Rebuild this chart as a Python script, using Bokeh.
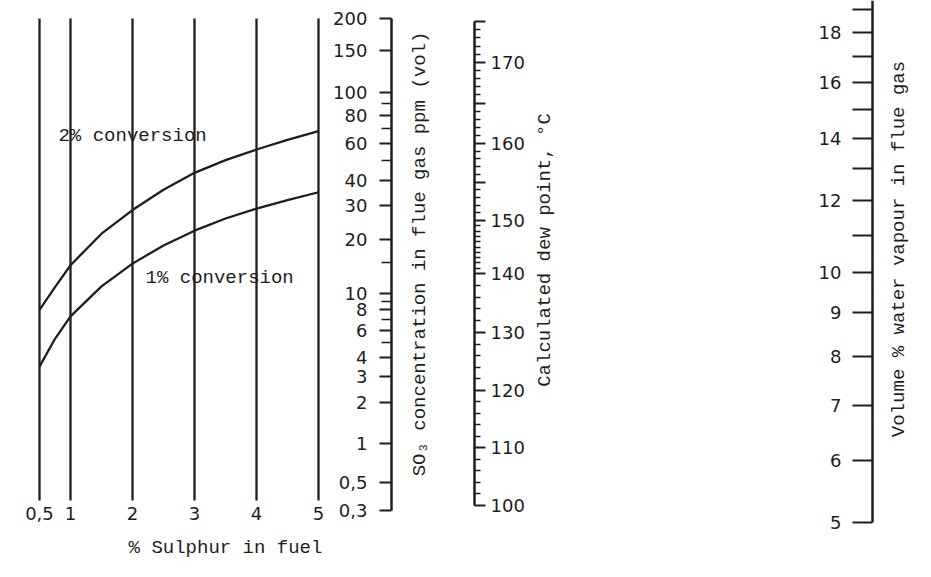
import numpy as np
from bokeh.plotting import figure
from bokeh.models import LinearAxis, FixedTicker, Range1d, Label, ColumnDataSource
from bokeh.embed import file_html
from bokeh.resources import INLINE

# ---------------- data ----------------
sulphur = [0.5, 1, 2, 3, 4, 5]
sulphur_labels = ["0,5", "1", "2", "3", "4", "5"]

curve_sulphur = [0.5, 0.75, 1, 1.5, 2, 2.5, 3, 3.5, 4, 4.5, 5]
so3_conv2 = [8.0, 10.9, 14.5, 21.5, 28.5, 36.0, 43.5, 50.0, 56.0, 62.0, 68.0]
so3_conv1 = [3.5, 5.3, 7.3, 11.0, 14.8, 18.6, 22.3, 25.8, 29.0, 32.0, 35.0]

so3_ticks = [0.3, 0.5, 1, 2, 3, 4, 6, 8, 10, 20, 30, 40, 60, 80, 100, 150, 200]
so3_tick_labels = ["0,3", "0,5", "1", "2", "3", "4", "6", "8", "10", "20", "30",
                   "40", "60", "80", "100", "150", "200"]
so3_minor = [5, 7, 9, 15, 50, 70, 90]

dew_ticks = [100, 110, 120, 130, 140, 150, 160, 170]
dew_tick_labels = ["100", "110", "120", "130", "140", "150", "160", "170"]
dew_mid = [155, 165, 175]
dew_minor = ([t for t in range(102, 150, 2) if t % 10 != 0]
             + [t for t in range(141, 175) if t % 5 != 0] + [145])

water_ticks = [5, 6, 7, 8, 9, 10, 12, 14, 16, 18]
water_tick_labels = ["5", "6", "7", "8", "9", "10", "12", "14", "16", "18"]
water_minor = [11, 13, 15, 17, 19]

# ---------------- scale definitions of the nomogram ----------------
def so3_pos(ppm):
    L = np.log10(np.asarray(ppm, dtype=float))
    return 126.0 + 133.35 * L + 12.30 * L ** 2 + 4.354 * L ** 3

def water_pos(w):
    x = np.log10(np.asarray(w, dtype=float)) - 1.0
    return 297.0 + 889.8 * x + 196.8 * x ** 2

DEW_CAL_T = [100, 110, 120, 130, 140, 150, 160, 170, 175]
DEW_CAL_H = [64, 122, 179, 237, 296, 349, 426, 507, 548]

def dew_pos(t):
    return np.interp(np.asarray(t, dtype=float), DEW_CAL_T, DEW_CAL_H)

def rnd(a):
    return [round(float(v), 3) for v in np.atleast_1d(a)]

# ---------------- layout ----------------
W, H = 915, 561
PX = 62.0
X_SO3, X_DEW, X_WATER = 6.177, 7.516, 13.935
BASE_H = 69.0
INK = "#1e1e1e"
MONO = "Liberation Mono"
SANS = "DejaVu Sans"

p = figure(width=W, height=H,
           x_range=Range1d(-8 / PX, (W - 8) / PX), y_range=Range1d(8, 8 + H),
           x_axis_type=None, y_axis_type=None, output_backend="svg",
           toolbar_location=None, min_border=0, outline_line_color=None,
           background_fill_color="white", border_fill_color="white")

# sulphur lines
src_s = ColumnDataSource(dict(x=sulphur))
p.segment(x0="x", x1="x", y0=BASE_H, y1=float(so3_pos(200)), source=src_s,
          line_color=INK, line_width=2.3)

# conversion curves
p.line(curve_sulphur, so3_pos(so3_conv2), line_color=INK, line_width=2.3, line_join="round")
p.line(curve_sulphur, so3_pos(so3_conv1), line_color=INK, line_width=2.3, line_join="round")

def style_axis(ax, tick_out, minor_out, standoff):
    ax.axis_line_color = INK
    ax.axis_line_width = 2.5
    ax.major_tick_line_color = INK
    ax.major_tick_line_width = 2
    ax.major_tick_in = 0
    ax.major_tick_out = tick_out
    ax.minor_tick_line_color = INK
    ax.minor_tick_line_width = 1.6
    ax.minor_tick_in = 0
    ax.minor_tick_out = minor_out
    ax.major_label_standoff = standoff
    ax.major_label_text_font = SANS
    ax.major_label_text_font_size = "18px"
    ax.major_label_text_color = INK

# sulphur axis (labels only)
s_ax = LinearAxis(fixed_location=BASE_H,
                  ticker=FixedTicker(ticks=sulphur, minor_ticks=[]),
                  major_label_overrides={float(v): l for v, l in zip(sulphur, sulphur_labels)})
style_axis(s_ax, 0, 0, 6)
s_ax.axis_line_color = None
s_ax.major_tick_line_color = None
s_ax.minor_tick_line_color = None
p.add_layout(s_ax, "below")

# SO3 scale
so3_tp = rnd(so3_pos(so3_ticks))
so3_ax = LinearAxis(fixed_location=X_SO3,
                    ticker=FixedTicker(ticks=so3_tp, minor_ticks=rnd(so3_pos(so3_minor))),
                    major_label_overrides=dict(zip(so3_tp, so3_tick_labels)),
                    bounds=(so3_tp[0], so3_tp[-1]))
style_axis(so3_ax, 12, 10, 12)
p.add_layout(so3_ax, "left")

# dew point scale
dew_tp = rnd(dew_pos(dew_ticks))
dew_mp = rnd(dew_pos(dew_mid))
dew_over = dict(zip(dew_tp, dew_tick_labels))
dew_over.update({v: "" for v in dew_mp})
dew_ax = LinearAxis(fixed_location=X_DEW,
                    ticker=FixedTicker(ticks=dew_tp + dew_mp, minor_ticks=rnd(dew_pos(dew_minor))),
                    major_label_overrides=dew_over,
                    bounds=(float(dew_pos(100)), float(dew_pos(175))))
style_axis(dew_ax, 11, 6, 5)
p.add_layout(dew_ax, "right")

# water vapour scale
wat_tp = rnd(water_pos(water_ticks))
wat_ax = LinearAxis(fixed_location=X_WATER,
                    ticker=FixedTicker(ticks=wat_tp, minor_ticks=rnd(water_pos(water_minor))),
                    major_label_overrides=dict(zip(wat_tp, water_tick_labels)),
                    bounds=(wat_tp[0], float(8 + H)))
style_axis(wat_ax, 20, 20, 11)
wat_ax.minor_tick_line_width = 2
p.add_layout(wat_ax, "left")

def add_text(x, y, text, angle=0, align="center"):
    p.add_layout(Label(x=x, y=y, text=text, angle=angle, angle_units="deg",
                       text_align=align, text_baseline="middle", text_font=MONO,
                       text_font_size="19px", text_color=INK))

add_text(0.806, 434, "2% conversion", align="left")
add_text(2.21, 292, "1% conversion", align="left")
add_text(3.5, 22, "% Sulphur in fuel")
add_text(6.645, 315.5, "SO\u2083 concentration in flue gas ppm (vol)", angle=90)
add_text(8.661, 319.5, "Calculated dew point, \u00b0C", angle=90)
add_text(14.355, 320.5, "Volume % water vapour in flue gas", angle=90)

open("out.html", "w").write(file_html(p, INLINE))
